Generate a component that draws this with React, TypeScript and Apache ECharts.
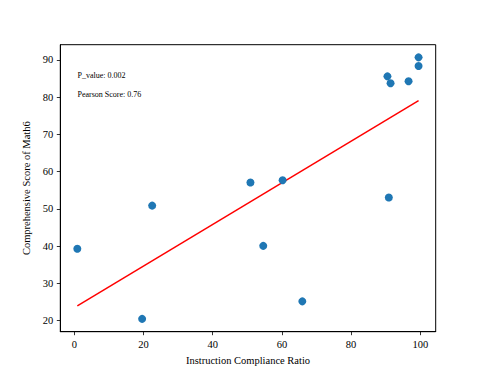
import React, { useEffect, useRef } from "react";
import * as echarts from "echarts";

const complianceRatio = [0.87, 19.6, 22.5, 50.9, 60.2, 54.6, 65.9, 90.9, 90.5, 91.4, 96.6, 99.5, 99.5];
const mathScore = [39.3, 20.5, 50.9, 57.1, 57.7, 40.1, 25.2, 53.1, 85.6, 83.75, 84.3, 90.7, 88.4];
const fitX = [0.87, 99.5];
const fitY = [24.0, 79.1];
const xTicks = [0, 20, 40, 60, 80, 100];
const yTicks = [20, 30, 40, 50, 60, 70, 80, 90];
const annotations = ["P_value: 0.002", "Pearson Score: 0.76"];

const FONT = "'Liberation Serif', 'DejaVu Serif', serif";

export default function App() {
  const ref = useRef<HTMLDivElement>(null);
  useEffect(() => {
    if (!ref.current) return;
    const chart = echarts.init(ref.current, null, { renderer: "svg" });
    const axisCommon = {
      axisLine: { show: true, onZero: false, lineStyle: { color: "#000", width: 1 } },
      axisTick: { show: true, inside: false, length: 3.5, lineStyle: { color: "#000", width: 0.8 } },
      splitLine: { show: false },
      nameTextStyle: { fontFamily: FONT, fontSize: 10.5, color: "#000" },
    };
    chart.setOption({
      animation: false,
      backgroundColor: "#fff",
      grid: {
        left: 60.3,
        top: 44.7,
        right: 48.3,
        bottom: 41.3,
        show: true,
        borderColor: "#000",
        borderWidth: 1,
        backgroundColor: "transparent",
      },
      xAxis: {
        type: "value",
        min: -4.05,
        max: 104.45,
        name: "Instruction Compliance Ratio",
        nameLocation: "middle",
        nameGap: 17,
        ...axisCommon,
        axisTick: { ...axisCommon.axisTick, customValues: xTicks },
        axisLabel: {
          customValues: xTicks,
          margin: 7,
          fontFamily: FONT,
          fontSize: 10.5,
          color: "#000",
        },
      },
      yAxis: {
        type: "value",
        min: 17.05,
        max: 94.1,
        name: "Comprehensive Score of Math6",
        nameLocation: "middle",
        nameRotate: 90,
        nameGap: 18,
        ...axisCommon,
        axisTick: { ...axisCommon.axisTick, customValues: yTicks },
        axisLabel: {
          customValues: yTicks,
          margin: 7,
          fontFamily: FONT,
          fontSize: 10.5,
          color: "#000",
        },
      },
      series: [
        {
          type: "line",
          data: fitX.map((x, i) => [x, fitY[i]]),
          showSymbol: false,
          lineStyle: { color: "#ff0000", width: 1.5 },
          z: 2,
        },
        {
          type: "scatter",
          data: complianceRatio.map((x, i) => [x, mathScore[i]]),
          symbolSize: 8,
          itemStyle: { color: "#1f77b4", opacity: 1 },
          z: 3,
        },
      ],
      graphic: annotations.map((t, i) => ({
        type: "text",
        left: 77.5,
        top: 71.5 + i * 18.5,
        style: { text: t, fontFamily: FONT, fontSize: 8, fill: "#000" },
      })),
    });
    return () => chart.dispose();
  }, []);
  return (
    <div
      ref={ref}
      style={{ position: "fixed", left: 0, top: 0, width: 484, height: 373 }}
    />
  );
}
